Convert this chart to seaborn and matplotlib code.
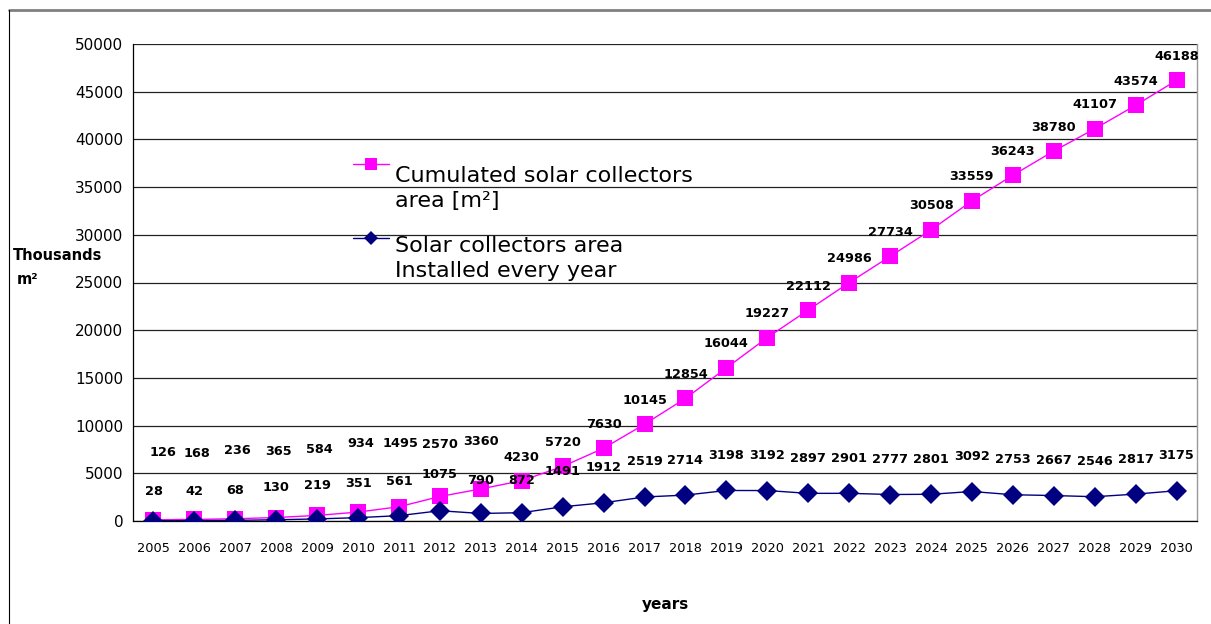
import matplotlib
matplotlib.use("Agg")
import matplotlib.pyplot as plt
import seaborn as sns
import numpy as np
import pandas as pd
from matplotlib.lines import Line2D

years = [str(y) for y in range(2005, 2031)]
cumulated = [126, 168, 236, 365, 584, 934, 1495, 2570, 3360, 4230, 5720, 7630, 10145,
             12854, 16044, 19227, 22112, 24986, 27734, 30508, 33559, 36243, 38780,
             41107, 43574, 46188]
annual = [28, 42, 68, 130, 219, 351, 561, 1075, 790, 872, 1491, 1912, 2519, 2714,
          3198, 3192, 2897, 2901, 2777, 2801, 3092, 2753, 2667, 2546, 2817, 3175]
y_ticks = list(range(0, 50001, 5000))

# label offsets (pixels above the point) - styling only
cum_dy = [67, 66, 68, 66, 66, 69, 63, 52, 47, 23] + [24] * 16
cum_dx = [10, 3, 2, 2, 2, 3, 2, 0, 0, 0] + [0] * 16
ann_dy = [29, 29, 30, 32, 33, 34, 34, 36, 33, 32] + [35] * 16

sns.set_theme(style="white")
plt.rcParams['font.family'] = ['DejaVu Sans']
for k in ["text.color", "axes.labelcolor", "xtick.color", "ytick.color"]:
    plt.rcParams[k] = "black"

fig = plt.figure(figsize=(12.11, 6.24), dpi=100)
ax = fig.add_axes([133/1211, 1-521/624, (1197-133)/1211, (521-44)/624])

pos = np.arange(len(years))
df = pd.DataFrame({"pos": pos, "cum": cumulated, "ann": annual})

sns.lineplot(data=df, x="pos", y="cum", ax=ax, color="#FF00FF", lw=1,
             marker="s", markersize=12, markeredgewidth=0, markeredgecolor="#FF00FF",
             label="Cumulated solar collectors\narea [m²]", zorder=4)
sns.lineplot(data=df, x="pos", y="ann", ax=ax, color="#000080", lw=1,
             marker="D", markersize=10, markeredgewidth=0, markeredgecolor="#000080",
             label="Solar collectors area\nInstalled every year", zorder=5)

for i in range(len(years)):
    ax.annotate(str(cumulated[i]), (pos[i], cumulated[i]), xytext=(cum_dx[i], cum_dy[i]),
                textcoords="offset pixels", ha="center", va="center",
                fontsize=9.3, fontweight="bold", color="black", zorder=6)
    ax.annotate(str(annual[i]), (pos[i], annual[i]), xytext=(0, ann_dy[i]),
                textcoords="offset pixels", ha="center", va="center",
                fontsize=9.3, fontweight="bold", color="black", zorder=6)

ax.set_xlim(-0.5, len(years) - 0.5)
ax.set_ylim(0, 50000)
ax.set_yticks(y_ticks)
ax.set_yticklabels([str(v) for v in y_ticks], fontsize=11)
ax.yaxis.grid(True, color="#222222", lw=0.9)
ax.set_axisbelow(True)
ax.set_xticks(pos)
ax.set_xticklabels(years, fontsize=9.3)
ax.set_xticks(np.arange(-0.5, len(years), 1), minor=True)
ax.tick_params(axis="x", which="major", length=0, pad=15)
ax.tick_params(axis="x", which="minor", length=6, width=0.9, color="black", direction="out")
ax.tick_params(axis="y", length=5, width=0.9, color="black", direction="out", pad=2)

for s in ["left", "bottom"]:
    ax.spines[s].set_color("black")
    ax.spines[s].set_linewidth(0.9)
ax.spines["right"].set_color("#999999")
ax.spines["right"].set_linewidth(1)
ax.spines["top"].set_visible(False)

ax.set_xlabel("years", fontsize=11, fontweight="bold", labelpad=30)
ax.set_ylabel("")

leg = ax.legend(loc="upper left", bbox_to_anchor=(353/1211, 1-166/624),
                bbox_transform=fig.transFigure, frameon=False, fontsize=16,
                handlelength=1.62, handletextpad=0.27, labelspacing=1.1,
                borderaxespad=0, borderpad=0, markerscale=0.68)
for t in leg.get_texts():
    t.set_linespacing(1.32)
for h, d in zip(leg.legend_handles, [17.5, 15]):
    h.set_ydata(np.asarray(h.get_ydata(), dtype=float) + d)

fig.text(13/1211, 1-256/624, "Thousands", fontsize=10.5, fontweight="bold",
         ha="left", va="center")
fig.text(17/1211, 1-279/624, "m²", fontsize=10.5, fontweight="bold",
         ha="left", va="center")

fig.add_artist(Line2D([9/1211, 1], [1-10/624, 1-10/624], transform=fig.transFigure,
                      color="#808080", lw=2))
fig.add_artist(Line2D([9/1211, 9/1211], [0, 1-10/624], transform=fig.transFigure,
                      color="black", lw=0.8))

fig.savefig("out.png", dpi=100)
